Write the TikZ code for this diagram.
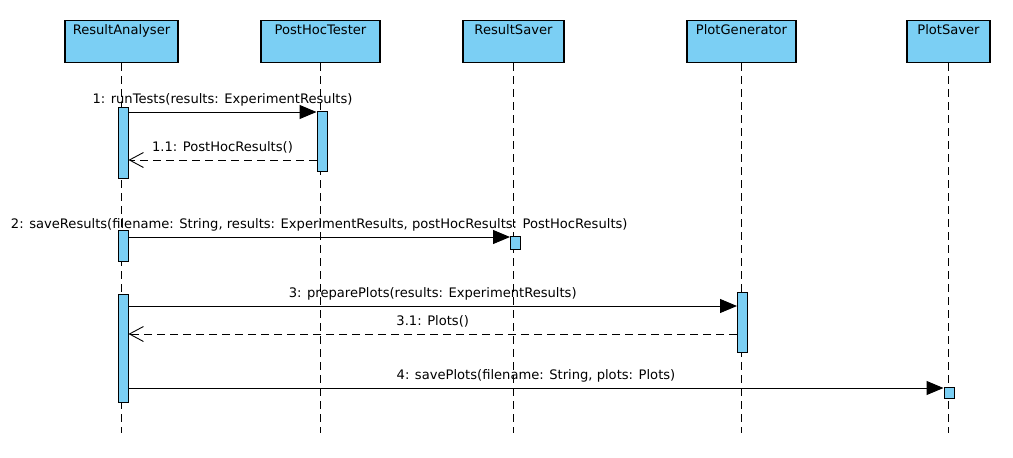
\documentclass[tikz,border=0pt]{standalone}
\usepackage{fontspec}
\setmainfont{DejaVu Sans}
\usepackage{tikz}
\usetikzlibrary{arrows.meta}
\definecolor{lifeBlue}{HTML}{7BCFF4}

\begin{document}
\begin{tikzpicture}[x=1pt,y=-1pt,font=\fontsize{13.1}{15}\selectfont,
  hdr/.style={draw,line width=1.1pt,fill=lifeBlue,minimum height=42,inner ysep=5pt,
    text height=9.4pt,text depth=22.6pt,anchor=north},
  act/.style={draw,line width=1pt,fill=lifeBlue,minimum width=10,inner sep=0pt},
  lifeline/.style={line width=0.9pt,dash pattern=on 8pt off 5pt},
  sync/.style={line width=1pt,-{Triangle[length=17pt,width=14pt]}},
  reply/.style={line width=1pt,dash pattern=on 8pt off 5pt,-{Straight Barb[length=14pt,width=15pt,line width=0.9pt]}},
  msg/.style={midway,anchor=base,yshift=9pt,inner sep=0pt}]
  \useasboundingbox (0,0) rectangle (1013,458);
  % participants and lifelines
  \foreach \nm/\x/\w/\txt in {ra/121.5/113/ResultAnalyser,ph/320.5/119/PostHocTester,
      rs/513.5/101/ResultSaver,pg/741.5/109/PlotGenerator,ps/948.5/83/PlotSaver}{
    \node[hdr,minimum width=\w] (\nm) at (\x,20) {\txt};
    \coordinate (\nm end) at (\x,433);
    \draw[lifeline] (\nm.south) -- (\nm end);
  }
  % activation bars
  \foreach \nm/\x/\ya/\yb in {aRA1/123/107/178,aRA2/123/230/261,aRA3/123/294/402,
      aPH/322/111/171,aRS/515.5/236/249,aPG/742.5/292/352,aPS/949/387/398}{
    \node[act,minimum height={\yb-\ya}] (\nm) at (\x,{(\ya+\yb)/2}) {};
  }
  % calls
  \foreach \s/\t/\y/\txt in {aRA1/aPH/112/{1: runTests(results: ExperimentResults)},
      aRA2/aRS/237/{2: saveResults(filename: String, results: ExperimentResults, postHocResults: PostHocResults)},
      aRA3/aPG/306/{3: preparePlots(results: ExperimentResults)},
      aRA3/aPS/388/{4: savePlots(filename: String, plots: Plots)}}{
    \draw[sync] (\s.east |- 0,\y) -- (\t.west |- 0,\y) node[msg] {\txt};
  }
  % replies
  \foreach \s/\t/\y/\txt in {aPH/aRA1/160/{1.1: PostHocResults()},aPG/aRA3/334/{3.1: Plots()}}{
    \draw[reply] (\s.west |- 0,\y) -- (\t.east |- 0,\y) node[msg] {\txt};
  }
\end{tikzpicture}
\end{document}
